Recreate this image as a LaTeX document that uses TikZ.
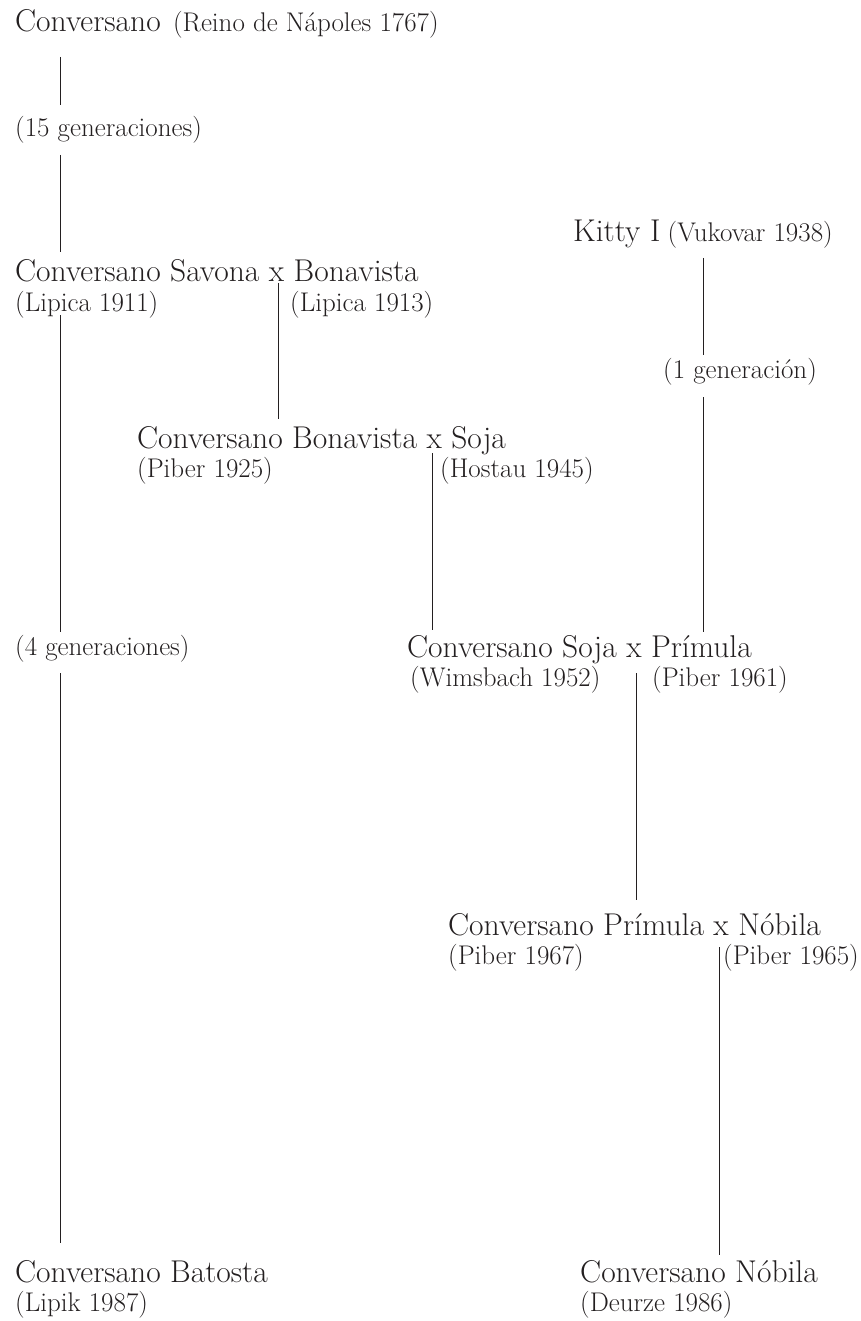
\documentclass[tikz,border=0pt]{standalone}
\usepackage{tikz}
\usetikzlibrary{positioning}
\definecolor{inkc}{RGB}{35,31,32}
\tikzset{
    bigname/.style = {anchor=base west, inner sep=0pt, text=inkc, font=\fontsize{31.5}{38}\selectfont},
    smallname/.style = {anchor=base west, inner sep=0pt, text=inkc, font=\fontsize{27}{32}\selectfont},
    link/.style = {line width=0.9pt, draw=inkc}
}
\begin{document}
\begin{tikzpicture}[x=1pt,y=-1pt]
\useasboundingbox (0,0) rectangle (861,1321);
%
\node[bigname] at (15,32) (conv) {Conversano};
\node[smallname] at ([xshift=12pt]conv.base east) (reino) {(Reino de Nápoles 1767)};
\node[smallname] at (15,137) (gen15) {(15 generaciones)};
%
\node[bigname] at (15,282) (savona) {Conversano Savona x Bonavista};
\node[smallname] at (15,311) (lip11) {(Lipica 1911)};
\node[smallname] at (290,311) (lip13) {(Lipica 1913)};
%
\node[bigname] at (573,242) (kitty) {Kitty I};
\node[smallname] at ([xshift=7pt]kitty.base east) (vuko) {(Vukovar 1938)};
\node[smallname] at (663,378) (gen1) {(1 generación)};
%
\node[bigname] at (137,448) (bonav) {Conversano Bonavista x Soja};
\node[smallname] at (137,477) (pib25) {(Piber 1925)};
\node[smallname] at (440,477) (host45) {(Hostau 1945)};
%
\node[smallname] at (15,655) (gen4) {(4 generaciones)};
\node[bigname] at (407,657) (soja) {Conversano Soja x Prímula};
\node[smallname] at (410,686) (wims) {(Wimsbach 1952)};
\node[smallname] at (652,686) (pib61) {(Piber 1961)};
%
\node[bigname] at (448,935) (primnob) {Conversano Prímula x Nóbila};
\node[smallname] at (448,964) (pib67) {(Piber 1967)};
\node[smallname] at (723,964) (pib65) {(Piber 1965)};
%
\node[bigname] at (15,1282) (batosta) {Conversano Batosta};
\node[smallname] at (15,1311) (lipik) {(Lipik 1987)};
\node[bigname] at (580,1282) (nobila) {Conversano Nóbila};
\node[smallname] at (580,1311) (deurze) {(Deurze 1986)};
%
\draw[link] ([shift={(45,25)}]conv.base west) -- ([shift={(45,-32)}]gen15.base west);
\draw[link] ([shift={(45,18)}]gen15.base west) -- ([shift={(45,-30)}]savona.base west);
\draw[link] ([shift={(45,4)}]lip11.base west) -- ([shift={(45,-23)}]gen4.base west);
\draw[link] ([shift={(45,18)}]gen4.base west) -- ([shift={(45,-39)}]batosta.base west);
\draw[link] ([shift={(263,1)}]savona.base west) -- ([shift={(141,-29)}]bonav.base west);
\draw[link] ([shift={(295,5)}]bonav.base west) -- ([shift={(25,-27)}]soja.base west);
\draw[link] ([shift={(130,16)}]kitty.base west) -- ([shift={(40,-23)}]gen1.base west);
\draw[link] ([shift={(40,19)}]gen1.base west) -- ([shift={(296,-25)}]soja.base west);
\draw[link] ([shift={(229,16)}]soja.base west) -- ([shift={(188,-35)}]primnob.base west);
\draw[link] ([shift={(271,12)}]primnob.base west) -- ([shift={(139,-27)}]nobila.base west);

\end{tikzpicture}
\end{document}
